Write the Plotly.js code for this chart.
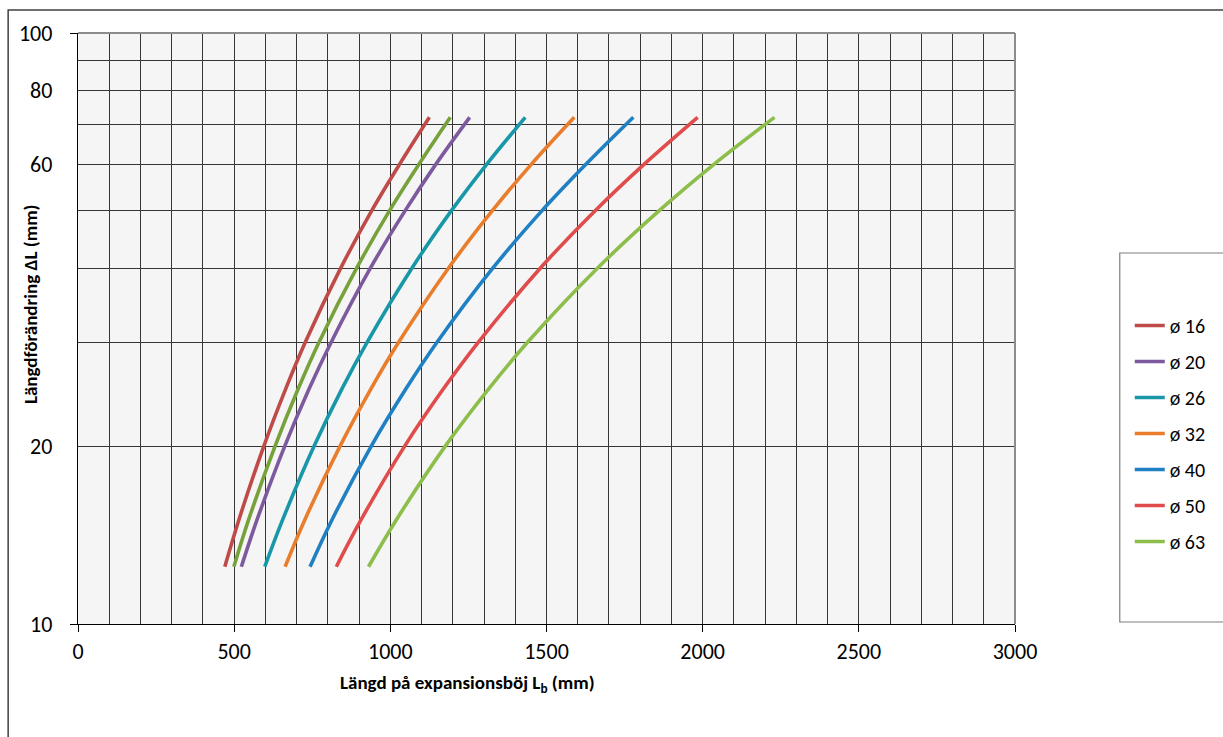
<!DOCTYPE html>
<html>
<head>
<meta charset="utf-8">
<script src="https://cdn.plot.ly/plotly-3.0.1.min.js"></script>
<style>html,body{margin:0;padding:0;background:#fff;}#chart{width:1223px;height:737px;}</style>
</head>
<body>
<div id="chart"></div>
<script>
// ΔL levels (mm) at which the curves were read
const deltaL = [12.5, 15, 20, 25, 30, 40, 50, 60, 72];
// Length of expansion bend Lb (mm) for each pipe size
const d16  = [470, 515, 595, 665, 728, 841, 940, 1030, 1125];
const dExtra = [499, 546, 631, 705, 772, 892, 997, 1092, 1192];
const d20  = [523, 573, 662, 740, 811, 936, 1047, 1146, 1254];
const d26  = [598, 655, 756, 845, 926, 1069, 1195, 1309, 1432];
const d32  = [663, 726, 839, 938, 1027, 1186, 1326, 1452, 1589];
const d40  = [743, 813, 939, 1050, 1150, 1328, 1485, 1627, 1778];
const d50  = [827, 906, 1046, 1170, 1282, 1480, 1655, 1813, 1984];
const d63  = [930, 1019, 1176, 1315, 1440, 1663, 1860, 2037, 2230];

const seriesNames = ['ø 16', 'ø 20', 'ø 26', 'ø 32', 'ø 40', 'ø 50', 'ø 63'];
const seriesData = [d16, d20, d26, d32, d40, d50, d63];
const seriesColors = ['#BE4B48', '#7D5A9E', '#1797A8', '#EA7D2C', '#1F80C4', '#E04C4B', '#8DBE4B'];

const yTickVals = [10, 20, 30, 40, 50, 60, 70, 80, 90, 100];
const yTickText = ['10', '20', '', '', '', '60', '', '80', '', '100'];
const yMajorTicks = [10, 100];

const FONT = 'Carlito, Lato, "Liberation Sans", sans-serif';

const traces = [];
traces.push({
  x: dExtra, y: deltaL, type: 'scatter', mode: 'lines',
  line: {color: '#77A23B', width: 3.6, shape: 'spline'},
  showlegend: false, hoverinfo: 'skip'
});
seriesNames.forEach((n, i) => {
  traces.push({
    x: seriesData[i], y: deltaL, type: 'scatter', mode: 'lines',
    name: n, legendgroup: 'g' + i,
    line: {color: seriesColors[i], width: 3.6, shape: 'spline'}
  });
});
// empty trace to attach the tick-only overlay axis
traces.push({x: [], y: [], yaxis: 'y2', type: 'scatter', mode: 'lines', showlegend: false, hoverinfo: 'skip'});

const W = 939, H = 591; // plot area size
const px = v => (v - 78) / W;
const py = v => (624 - v) / H;

const layout = {
  width: 1223, height: 737,
  margin: {l: 78, r: 206, t: 33, b: 113, pad: 0},
  paper_bgcolor: '#ffffff',
  plot_bgcolor: '#F5F5F5',
  font: {family: FONT, color: '#000', size: 20},
  showlegend: true,
  legend: {
    x: px(1132), y: py(306), xanchor: 'left', yanchor: 'top',
    bgcolor: 'rgba(0,0,0,0)', borderwidth: 0,
    font: {family: FONT, size: 20, color: '#000'},
    tracegroupgap: 7, traceorder: 'grouped'
  },
  xaxis: {
    range: [0, 3000], dtick: 500, tick0: 0,
    showgrid: true, gridcolor: '#363636', gridwidth: 1,
    minor: {dtick: 100, showgrid: true, gridcolor: '#363636', gridwidth: 1, ticks: ''},
    ticks: 'outside', ticklen: 7, tickcolor: '#000', tickwidth: 1,
    showline: true, linecolor: '#000', linewidth: 1.2,
    zeroline: false,
    tickfont: {family: FONT, size: 22, color: '#000'}
  },
  yaxis: {
    type: 'log', range: [1, 2],
    tickmode: 'array', tickvals: yTickVals, ticktext: yTickText,
    showgrid: true, gridcolor: '#363636', gridwidth: 1,
    ticks: '', ticklabelstandoff: 20,
    showline: true, linecolor: '#000', linewidth: 1.2,
    zeroline: false,
    tickfont: {family: FONT, size: 22, color: '#000'}
  },
  yaxis2: {
    type: 'log', range: [1, 2], overlaying: 'y', side: 'left',
    tickmode: 'array', tickvals: yMajorTicks, ticktext: ['', ''],
    ticks: 'outside', ticklen: 7, tickcolor: '#000',
    showgrid: false, showline: false, zeroline: false, showticklabels: false
  },
  annotations: [
    {text: '<b>Längd på expansionsböj L<sub>b</sub> (mm)</b>', xref: 'paper', yref: 'paper',
     x: px(468), y: py(684), xanchor: 'center', yanchor: 'middle', showarrow: false,
     font: {family: FONT, size: 19, color: '#000'}},
    {text: '<b>Längdförändring ΔL (mm)</b>', xref: 'paper', yref: 'paper',
     x: px(30), y: py(304), xanchor: 'center', yanchor: 'middle', showarrow: false, textangle: -90,
     font: {family: FONT, size: 19, color: '#000'}}
  ],
  shapes: [
    // plot area top/right border
    {type: 'line', xref: 'paper', yref: 'paper', x0: 0, x1: 1, y0: 1, y1: 1, line: {color: '#8c8c8c', width: 2}, layer: 'above'},
    {type: 'line', xref: 'paper', yref: 'paper', x0: 1, x1: 1, y0: 0, y1: 1, line: {color: '#8c8c8c', width: 2}, layer: 'above'},
    // legend box
    {type: 'rect', xref: 'paper', yref: 'paper', x0: px(1122), x1: px(1240), y0: py(622), y1: py(253),
     line: {color: '#7f7f7f', width: 1.2}, fillcolor: 'rgba(0,0,0,0)', layer: 'above'},
    // chart area border
    {type: 'rect', xref: 'paper', yref: 'paper', x0: px(8), x1: px(1240), y0: py(760), y1: py(10),
     line: {color: '#404040', width: 1.5}, fillcolor: 'rgba(0,0,0,0)', layer: 'above'}
  ]
};

Plotly.newPlot('chart', traces, layout, {displayModeBar: false, staticPlot: true});
</script>
</body>
</html>
